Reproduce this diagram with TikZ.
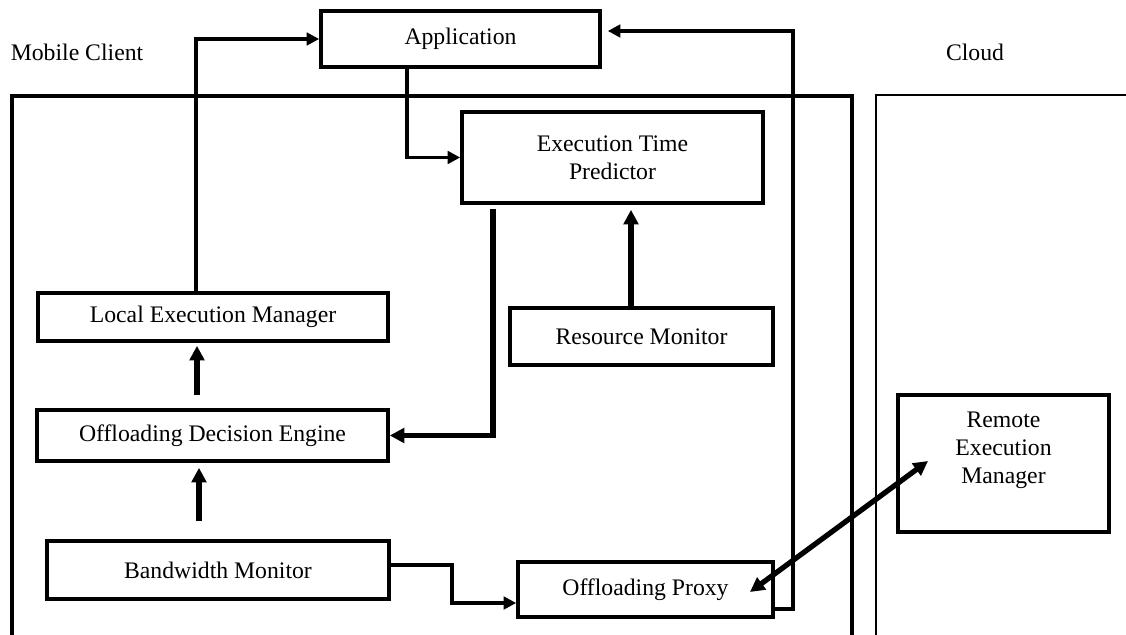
\documentclass[tikz,border=0pt]{standalone}
\usepackage{fontspec}
\setmainfont{Liberation Serif}
\usetikzlibrary{arrows.meta}
\begin{document}
\begin{tikzpicture}[x=0.02cm, y=-0.02cm,
  every node/.style={font=\fontsize{13.5pt}{15.9pt}\selectfont},
  box/.style={draw, line width=2.1pt, inner sep=0pt, align=center},
  arr/.style={line width=2.0pt, -{Triangle[length=0.25cm,width=0.25cm]}},
  tarr/.style={line width=3.0pt, -{Triangle[length=0.29cm,width=0.29cm]}},
  darr/.style={line width=3.0pt, {Triangle[length=0.29cm,width=0.29cm]}-{Triangle[length=0.29cm,width=0.29cm]}},
  region/.style={line width=2.6pt},
  cloudregion/.style={line width=1.4pt}]
\useasboundingbox (0,0) rectangle (1126,635);

% region labels
\node (mc) at (77,52) {Mobile Client};
\node (cl) at (975,52) {Cloud};

% region outlines
\draw[region] (12,635) -- (12,96) -- (852,96) -- (852,635);
\draw[cloudregion] (876,635) -- (876,95) -- (1126,95);

% boxes
\node[box, minimum width=5.58cm, minimum height=1.12cm] (app) at (460.5,39) {Application};
\node[box, minimum width=6.02cm, minimum height=1.82cm] (etp) at (612.5,157.5) {Execution Time\\Predictor};
\node[box, minimum width=7.00cm, minimum height=0.96cm] (lem) at (213,317) {Local Execution Manager};
\node[box, minimum width=5.26cm, minimum height=1.14cm] (rm) at (641.5,336.5) {Resource Monitor};
\node[box, minimum width=7.02cm, minimum height=1.02cm] (ode) at (212.5,435.5) {Offloading Decision Engine};
\node[box, minimum width=6.84cm, minimum height=1.16cm] (bm) at (218,570) {Bandwidth Monitor};
\node[box, minimum width=5.10cm, minimum height=1.10cm] (op) at (645.5,589.5) {Offloading Proxy};
\node[box, minimum width=4.22cm, minimum height=2.74cm] (rem) at (1003.5,463.5) {};
\node[align=center] (remtext) at ([yshift=0.27cm]rem.center) {Remote\\Execution\\Manager};

% bend coordinates
\coordinate (k1) at (196,39);
\coordinate (k2) at (407,157);
\coordinate (k3a) at (773,609);
\coordinate (k3b) at (793,31);
\coordinate (k4) at (493,209);
\coordinate (k5) at (631,0);
\coordinate (k6) at (197,0);
\coordinate (k7) at (199,0);
\coordinate (k8a) at (452,565);
\coordinate (k8b) at (452,603);
\coordinate (d1) at (750,592);
\coordinate (d2) at (928,461);

% connectors
\draw[arr] (lem.north -| k1) |- (app.west);
\draw[arr] (app.south -| k2) |- (etp.west);
\draw[arr, shorten >=0.12cm] (op.east |- k3a) -| (k3b) -- (app.east |- k3b);
\draw[tarr] (k4) |- (ode.east);
\draw[tarr, shorten >=0.1cm] (rm.north -| k5) -- (etp.south -| k5);
\draw[tarr, shorten <=0.26cm, shorten >=0.06cm] (ode.north -| k6) -- (lem.south -| k6);
\draw[tarr, shorten <=0.36cm, shorten >=0.1cm] (bm.north -| k7) -- (ode.south -| k7);
\draw[arr] (bm.east |- k8a) -- (k8a) -- (k8b) -- (op.west |- k8b);
\draw[darr] (d1) -- (d2);
\end{tikzpicture}
\end{document}
